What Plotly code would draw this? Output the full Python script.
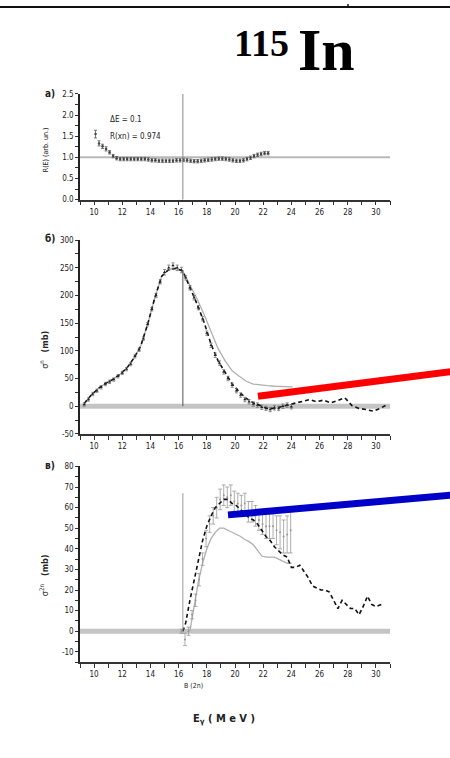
import plotly.graph_objects as go

W, H = 450, 758

# ---------------- DATA ----------------
B2n = 16.3

# panel a: R(E)
Ea = [10.1, 10.35, 10.6, 10.85, 11.1, 11.35, 11.6, 11.85, 12.1, 12.35, 12.6, 12.85, 13.1, 13.35, 13.6,
      13.85, 14.1, 14.35, 14.6, 14.85, 15.1, 15.35, 15.6, 15.85, 16.1, 16.35, 16.6, 16.85, 17.1, 17.35,
      17.6, 17.85, 18.1, 18.35, 18.6, 18.85, 19.1, 19.35, 19.6, 19.85, 20.1, 20.35, 20.6, 20.85, 21.1,
      21.35, 21.6, 21.85, 22.1, 22.35]
Ra = [1.55, 1.33, 1.26, 1.2, 1.12, 1.03, 0.98, 0.96, 0.96, 0.96, 0.96, 0.96, 0.96, 0.96, 0.96,
      0.95, 0.93, 0.93, 0.92, 0.92, 0.92, 0.92, 0.92, 0.93, 0.93, 0.94, 0.93, 0.92, 0.91, 0.91,
      0.92, 0.93, 0.94, 0.95, 0.96, 0.97, 0.97, 0.96, 0.95, 0.93, 0.92, 0.92, 0.93, 0.96, 0.99,
      1.03, 1.06, 1.08, 1.1, 1.1]
Ra_err = [0.09, 0.06, 0.05, 0.05, 0.04, 0.04, 0.04, 0.04, 0.04, 0.04, 0.04, 0.04, 0.04, 0.04, 0.04,
          0.04, 0.04, 0.04, 0.04, 0.04, 0.04, 0.04, 0.04, 0.04, 0.04, 0.04, 0.04, 0.04, 0.04, 0.04,
          0.04, 0.04, 0.04, 0.04, 0.04, 0.04, 0.04, 0.04, 0.04, 0.04, 0.04, 0.04, 0.04, 0.04, 0.04,
          0.04, 0.04, 0.04, 0.04, 0.04]

# panel b: sigma(g,n)
Eb_exp = [9.3, 9.6, 9.9, 10.2, 10.5, 10.8, 11.1, 11.4, 11.7, 12.0, 12.3, 12.6, 12.9, 13.2, 13.5,
          13.8, 14.1, 14.4, 14.7, 15.0, 15.3, 15.6, 15.9, 16.2, 16.5, 16.8, 17.1, 17.4, 17.7, 18.0,
          18.3, 18.6, 18.9, 19.2, 19.5, 19.8, 20.1, 20.4, 20.7, 21.0, 21.3, 21.6, 21.9, 22.2, 22.5,
          22.8, 23.1, 23.4, 23.7, 24.0]
Sb_exp = [3, 12, 22, 28, 34, 40, 44, 48, 54, 60, 67, 76, 90, 102, 122,
          148, 175, 200, 225, 242, 250, 254, 250, 246, 232, 214, 196, 178, 158, 132,
          110, 92, 78, 62, 50, 38, 28, 20, 12, 8, 4, 2, -2, -4, -6,
          -3, -4, 0, 2, -1]
Sb_err = [3, 3, 3, 3, 3, 3, 3, 3, 3, 3, 3, 3, 3, 3, 3,
          3, 3, 4, 4, 5, 5, 5, 5, 5, 4, 4, 4, 4, 4, 4,
          4, 4, 4, 4, 4, 4, 4, 4, 4, 4, 4, 4, 4, 4, 4,
          4, 4, 4, 4, 4]
Eb_eval = [9.3, 9.8, 10.3, 10.8, 11.3, 11.8, 12.3, 12.8, 13.3, 13.8, 14.3, 14.8, 15.3, 15.8, 16.3,
           16.8, 17.3, 17.8, 18.3, 18.8, 19.3, 19.8, 20.3, 20.8, 21.3, 21.8, 22.3, 22.8, 23.3, 23.8,
           24.3, 24.8, 25.3, 25.8, 26.3, 26.8, 27.3, 27.8, 28.3, 28.8, 29.3, 29.8, 30.3, 30.8]
Sb_eval = [5, 20, 32, 41, 48, 57, 68, 86, 108, 148, 195, 235, 247, 249, 244,
           216, 185, 152, 112, 82, 60, 40, 26, 14, 6, 1, -4, -4, -1, 2,
           5, 9, 12, 8, 11, 6, 10, 15, 1, -4, -6, -9, -4, 3]
Eb_alt = [9.3, 9.8, 10.3, 10.8, 11.3, 11.8, 12.3, 12.8, 13.3, 13.8, 14.3, 14.8, 15.3, 15.8, 16.3,
          16.8, 17.3, 17.8, 18.3, 18.8, 19.3, 19.8, 20.3, 20.8, 21.3, 21.8, 22.3, 22.8, 23.3, 23.8, 24.1]
Sb_alt = [5, 20, 32, 41, 48, 57, 68, 86, 108, 148, 195, 235, 247, 249, 244,
          220, 194, 166, 135, 104, 82, 64, 54, 45, 40, 38, 37, 36, 36, 35, 35]

# panel c: sigma(g,2n)
Ec_exp = [16.2, 16.45, 16.7, 16.95, 17.2, 17.45, 17.7, 17.95, 18.2, 18.45, 18.7, 18.95, 19.2, 19.45,
          19.7, 19.95, 20.2, 20.45, 20.7, 20.95, 21.2, 21.45, 21.7, 21.95, 22.2, 22.45, 22.7, 22.95,
          23.2, 23.45, 23.7, 23.95]
Sc_exp = [0, -4, 0, 8, 15, 25, 35, 45, 52, 56, 60, 64, 66, 65,
          66, 63, 62, 61, 62, 58, 58, 56, 54, 52, 51, 51, 51, 49,
          48, 46, 47, 49]
Sc_err = [1, 3, 2, 2, 3, 3, 3, 4, 4, 4, 5, 5, 5, 5,
          5, 5, 5, 5, 5, 5, 5, 5, 5, 5, 6, 6, 6, 7,
          8, 8, 9, 11]
Ec_eval = [16.3, 16.5, 16.8, 17.1, 17.4, 17.7, 18.0, 18.3, 18.6, 18.9, 19.2, 19.5, 19.8, 20.1, 20.4,
           20.7, 21.0, 21.3, 21.6, 21.9, 22.2, 22.5, 22.8, 23.1, 23.4, 23.7, 24.0, 24.3, 24.6, 24.9,
           25.2, 25.5, 25.8, 26.1, 26.4, 26.7, 27.0, 27.3, 27.6, 27.9, 28.2, 28.5, 28.8, 29.1, 29.4,
           29.7, 30.0, 30.4]
Sc_eval = [0, 4, 15, 25, 35, 44, 51, 56, 60, 62, 64, 64, 62, 61, 59,
           57, 55, 54, 52, 49, 46, 44, 41, 39, 37, 36, 31, 31, 32, 29,
           26, 22, 21, 20, 20, 19, 15, 11, 15, 13, 11, 11, 8, 12, 17,
           13, 12, 13]
Ec_alt = [16.8, 17.1, 17.4, 17.7, 18.0, 18.3, 18.6, 18.9, 19.2, 19.5, 19.8, 20.1, 20.4, 20.7, 21.0,
          21.3, 21.6, 21.9, 22.2, 22.5, 22.8, 23.1, 23.4, 23.7, 24.0]
Sc_alt = [0, 12, 24, 33, 40, 45, 48, 50, 50, 49, 48, 47, 46, 44.5, 43.5,
          42, 39, 36.5, 36, 36, 36, 35, 34, 33, 33]

x_tickvals = [10, 12, 14, 16, 18, 20, 22, 24, 26, 28, 30]
x_ticktext = ["10", "12", "14", "16", "18", "20", "22", "24", "26", "28", "30"]
ya_tickvals = [0, 0.5, 1.0, 1.5, 2.0, 2.5]
ya_ticktext = ["0.0", "0.5", "1.0", "1.5", "2.0", "2.5"]
yb_tickvals = [-50, 0, 50, 100, 150, 200, 250, 300]
yb_ticktext = ["-50", "0", "50", "100", "150", "200", "250", "300"]
yc_tickvals = [-10, 0, 10, 20, 30, 40, 50, 60, 70, 80]
yc_ticktext = ["-10", "0", "10", "20", "30", "40", "50", "60", "70", "80"]


def px_x(p):
    return p / W


def px_y(p):
    return 1 - p / H


TICKFONT = dict(family="DejaVu Sans Condensed, Liberation Sans Narrow, sans-serif", size=8, color="#222")

fig = go.Figure()

# panel a
fig.add_trace(go.Scatter(x=Ea, y=Ra, mode="markers", xaxis="x", yaxis="y",
                         marker=dict(size=2.5, color="#444"),
                         error_y=dict(type="data", array=Ra_err, color="#555", thickness=0.8, width=1.5)))
# panel b
fig.add_trace(go.Scatter(x=Eb_alt, y=Sb_alt, mode="lines", xaxis="x2", yaxis="y2",
                         line=dict(color="#b0b0b0", width=1.3)))
fig.add_trace(go.Scatter(x=Eb_eval, y=Sb_eval, mode="lines", xaxis="x2", yaxis="y2",
                         line=dict(color="#111", width=1.6, dash="4px,3px")))
fig.add_trace(go.Scatter(x=Eb_exp, y=Sb_exp, mode="markers", xaxis="x2", yaxis="y2",
                         marker=dict(size=3, color="#222", symbol="triangle-up"),
                         error_y=dict(type="data", array=Sb_err, color="#666", thickness=0.7, width=1.5)))
# panel c
fig.add_trace(go.Scatter(x=Ec_alt, y=Sc_alt, mode="lines", xaxis="x3", yaxis="y3",
                         line=dict(color="#b0b0b0", width=1.3)))
fig.add_trace(go.Scatter(x=Ec_exp, y=Sc_exp, mode="markers", xaxis="x3", yaxis="y3",
                         marker=dict(size=2, color="#999"),
                         error_y=dict(type="data", array=Sc_err, color="#999", thickness=0.8, width=2)))
fig.add_trace(go.Scatter(x=Ec_eval, y=Sc_eval, mode="lines", xaxis="x3", yaxis="y3",
                         line=dict(color="#111", width=1.6, dash="4px,3px")))

xdom = [px_x(80), px_x(390)]


def xaxis(anchor):
    return dict(domain=xdom, anchor=anchor, range=[9, 31], showgrid=False, zeroline=False,
                showline=True, linecolor="#333", linewidth=1.5,
                tickmode="array", tickvals=x_tickvals, ticktext=x_ticktext,
                ticks="outside", ticklen=4, tickcolor="#333", tickwidth=1, tickfont=TICKFONT,
                minor=dict(dtick=1, tick0=9, ticks="outside", ticklen=4, tickcolor="#333", tickwidth=1))


def yaxis(anchor, dom, rng, tv, tt, minor_dtick):
    return dict(domain=dom, anchor=anchor, range=rng, showgrid=False, zeroline=False,
                showline=True, linecolor="#222", linewidth=1.5,
                tickmode="array", tickvals=tv, ticktext=tt,
                ticks="outside", ticklen=3, tickcolor="#333", tickwidth=1, tickfont=TICKFONT,
                minor=dict(dtick=minor_dtick, ticks="outside", ticklen=3, tickcolor="#333", tickwidth=1))


fig.update_layout(
    width=W, height=H, margin=dict(l=0, r=0, t=0, b=0),
    paper_bgcolor="white", plot_bgcolor="white", showlegend=False,
    xaxis=xaxis("y"), xaxis2=xaxis("y2"), xaxis3=xaxis("y3"),
    yaxis=yaxis("x", [px_y(198), px_y(91)], [0, 2.5], ya_tickvals, ya_ticktext, 0.25),
    yaxis2=yaxis("x2", [px_y(435), px_y(239)], [-50, 300], yb_tickvals, yb_ticktext, 25),
    yaxis3=yaxis("x3", [px_y(666), px_y(468)], [-15, 80], yc_tickvals, yc_ticktext, 5),
)

shapes = [
    # reference lines
    dict(type="line", xref="x", yref="y", x0=9, x1=31, y0=1, y1=1, line=dict(color="#b8b8b8", width=2), layer="below"),
    dict(type="line", xref="x2", yref="y2", x0=9, x1=31, y0=0, y1=0, line=dict(color="#c4c4c4", width=5), layer="below"),
    dict(type="line", xref="x3", yref="y3", x0=9, x1=31, y0=0, y1=0, line=dict(color="#c4c4c4", width=5), layer="below"),
    dict(type="line", xref="x", yref="y", x0=B2n, x1=B2n, y0=0, y1=2.5, line=dict(color="#888", width=1)),
    dict(type="line", xref="x2", yref="y2", x0=B2n, x1=B2n, y0=0, y1=246, line=dict(color="#555", width=1)),
    dict(type="line", xref="x3", yref="y3", x0=B2n, x1=B2n, y0=0, y1=67, line=dict(color="#999", width=1)),
    # page decorations
    dict(type="line", xref="paper", yref="paper", x0=0, x1=1, y0=px_y(3), y1=px_y(3), line=dict(color="#111", width=2)),
    dict(type="line", xref="paper", yref="paper", x0=px_x(348), x1=px_x(348), y0=1, y1=px_y(3), line=dict(color="#111", width=1.5)),
    dict(type="line", xref="paper", yref="paper", x0=px_x(258), x1=px_x(452), y0=px_y(397), y1=px_y(372), line=dict(color="#ff0000", width=7)),
    dict(type="line", xref="paper", yref="paper", x0=px_x(228), x1=px_x(452), y0=px_y(517), y1=px_y(497), line=dict(color="#0000c8", width=7)),
]
fig.update_layout(shapes=shapes)

LBL = dict(family="DejaVu Sans Condensed, Liberation Sans Narrow, sans-serif", color="#222")
P = dict(xref="paper", yref="paper", showarrow=False, xanchor="center", yanchor="middle")
ann = [
    dict(text="<b>115</b>", x=px_x(291), y=px_y(39),
         font=dict(family="Liberation Serif", size=38, color="black"),
         **{**P, "xanchor": "right"}),
    dict(text="<b>In</b>", x=px_x(296), y=px_y(47),
         font=dict(family="Liberation Serif", size=60, color="black"),
         **{**P, "xanchor": "left"}),
    dict(text="<b>а)</b>", x=px_x(50), y=px_y(91), font=dict(size=10, **LBL), **P),
    dict(text="<b>б)</b>", x=px_x(50), y=px_y(237), font=dict(size=10, **LBL), **P),
    dict(text="<b>в)</b>", x=px_x(50), y=px_y(467), font=dict(size=10, **LBL), **P),
    dict(text="R(E) (arb. un.)", x=px_x(46), y=px_y(148), textangle=-90, font=dict(size=7, **LBL), **P),
    dict(text="σ<sup>n</sup>   <b>(mb)</b>", x=px_x(44), y=px_y(350), textangle=-90, font=dict(size=9, **LBL), **P),
    dict(text="σ<sup>2n</sup>   <b>(mb)</b>", x=px_x(44), y=px_y(578), textangle=-90, font=dict(size=9, **LBL), **P),
    dict(text="ΔE = 0.1", x=px_x(108), y=px_y(117), font=dict(size=8, **LBL), **{**P, "xanchor": "left"}),
    dict(text="R(xn) = 0.974", x=px_x(108), y=px_y(134), font=dict(size=8, **LBL), **{**P, "xanchor": "left"}),
    dict(text="B (2n)", x=px_x(193), y=px_y(690), font=dict(size=7, **LBL), **P),
    dict(text="<b>E<sub>γ</sub> ( M e V )</b>", x=px_x(224), y=px_y(724), font=dict(size=11, **LBL), **P),
]
fig.update_layout(annotations=ann)

fig.write_html("out.html")
